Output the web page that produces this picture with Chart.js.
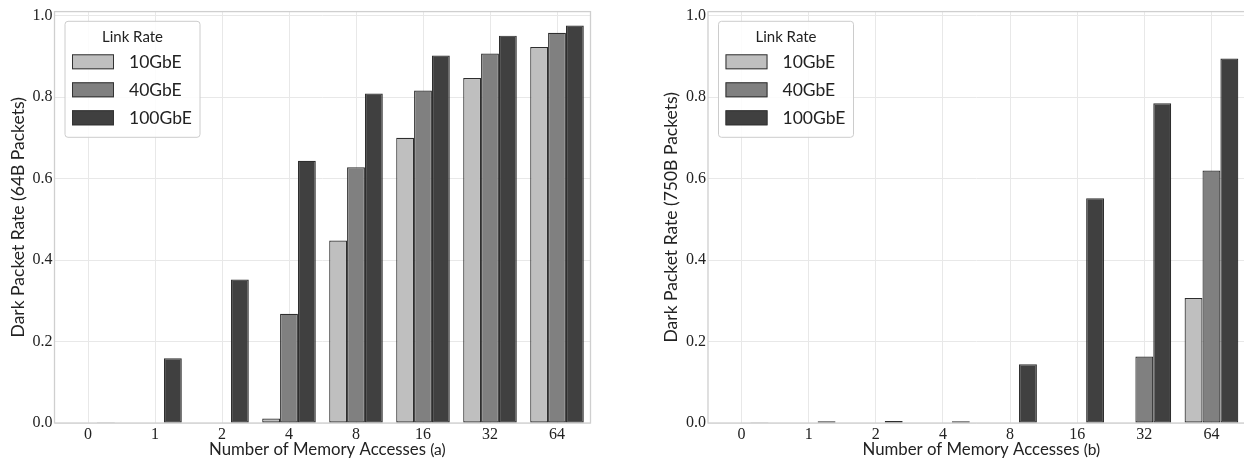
<!DOCTYPE html>
<html><head><meta charset="utf-8">
<script src="https://cdn.jsdelivr.net/npm/chart.js@4/dist/chart.umd.min.js"></script>
<style>
html,body{margin:0;padding:0;background:#fff;overflow:hidden;width:1244px;height:464px;}
#wa{position:absolute;left:0;top:0;width:620px;height:464px;}
#wb{position:absolute;left:620px;top:0;width:626px;height:464px;}
canvas{display:block;}
</style></head>
<body>
<div id="wa"><canvas id="ca" width="620" height="464" style="width:620px;height:464px"></canvas></div>
<div id="wb"><canvas id="cb" width="626" height="464" style="width:626px;height:464px"></canvas></div>
<script>
// ---- data ----
const categories = ['0', '1', '2', '4', '8', '16', '32', '64'];
const seriesNames = ['10GbE', '40GbE', '100GbE'];
const seriesColors = ['#bfbfbf', '#808080', '#404040'];
const rate64B_10GbE  = [0, 0, 0, 0.011, 0.448, 0.700, 0.847, 0.923];
const rate64B_40GbE  = [0, 0, 0, 0.268, 0.628, 0.816, 0.907, 0.958];
const rate64B_100GbE = [0.002, 0.159, 0.352, 0.644, 0.809, 0.902, 0.951, 0.976];
const rate750B_10GbE  = [0, 0, 0, 0, 0, 0, 0, 0.307];
const rate750B_40GbE  = [0, 0, 0, 0, 0, 0, 0.163, 0.620];
const rate750B_100GbE = [0.002, 0.004, 0.005, 0.004, 0.144, 0.552, 0.785, 0.895];
const yTickStep = 0.2;
const yMax = 1.01;
const legendTitle = 'Link Rate';
const xTitle = 'Number of Memory Accesses';
const yTitleA = 'Dark Packet Rate (64B Packets)';
const yTitleB = 'Dark Packet Rate (750B Packets)';

const SANS = 'Lato, "Open Sans", sans-serif';
const SERIF = '"Liberation Serif", serif';
const TXT = '#222222';

function makeDatasets(vals) {
  return vals.map((v, i) => ({
    label: seriesNames[i],
    data: v,
    backgroundColor: seriesColors[i],
    borderColor: '#2e2e2e',
    borderWidth: 1.2,
    borderSkipped: false,
    categoryPercentage: 0.8,
    barPercentage: 1.0
  }));
}

function decorPlugin(sub, yTitle) {
  return {
    id: 'decor',
    beforeDatasetsDraw(chart) {
      const {ctx, chartArea: a} = chart;
      ctx.save();
      ctx.strokeStyle = '#cfcfcf';
      ctx.lineWidth = 1.3;
      ctx.strokeRect(a.left, a.top, a.right - a.left, a.bottom - a.top);
      ctx.restore();
    },
    afterDraw(chart) {
      const {ctx, chartArea: a} = chart;
      ctx.save();
      ctx.fillStyle = TXT;
      // y title
      ctx.save();
      ctx.translate(a.left - 36.5, (a.top + a.bottom) / 2);
      ctx.rotate(-Math.PI / 2);
      ctx.font = '17.5px ' + SANS;
      ctx.textAlign = 'center';
      ctx.textBaseline = 'middle';
      ctx.fillText(yTitle, 0, 0);
      ctx.restore();
      // x title with small suffix
      const mainFont = '16.8px ' + SANS, subFont = '15.5px ' + SANS;
      ctx.font = mainFont;
      const w1 = ctx.measureText(xTitle + ' ').width;
      const x0 = a.left + 154.5;
      const yb = 455;
      ctx.textAlign = 'left';
      ctx.textBaseline = 'alphabetic';
      ctx.fillText(xTitle + ' ', x0, yb);
      ctx.font = subFont;
      ctx.fillText(sub, x0 + w1, yb);
      // legend
      const bx = a.left + 10.5, by = a.top + 9.7, bw = 135, bh = 116;
      ctx.fillStyle = 'rgba(255,255,255,0.85)';
      ctx.strokeStyle = '#cccccc';
      ctx.lineWidth = 1;
      ctx.beginPath();
      if (ctx.roundRect) ctx.roundRect(bx, by, bw, bh, 3); else ctx.rect(bx, by, bw, bh);
      ctx.fill(); ctx.stroke();
      ctx.fillStyle = TXT;
      ctx.font = '15px ' + SANS;
      ctx.textAlign = 'center';
      ctx.textBaseline = 'middle';
      ctx.fillText(legendTitle, bx + bw / 2, by + 16);
      chart.data.datasets.forEach((ds, i) => {
        const sy = by + 33 + i * 28;
        ctx.fillStyle = ds.backgroundColor;
        ctx.fillRect(bx + 7, sy, 42, 15);
        ctx.strokeStyle = '#333333';
        ctx.lineWidth = 1;
        ctx.strokeRect(bx + 7.5, sy + 0.5, 41, 14);
        ctx.fillStyle = TXT;
        ctx.font = '17.5px ' + SANS;
        ctx.textAlign = 'left';
        ctx.textBaseline = 'middle';
        ctx.fillText(ds.label, bx + 64, sy + 8);
      });
      ctx.restore();
    }
  };
}

function makeChart(id, vals, yAxisWidth, padRight, sub, yTitle) {
  return new Chart(document.getElementById(id), {
    type: 'bar',
    data: { labels: categories, datasets: makeDatasets(vals) },
    options: {
      responsive: false,
      animation: false,
      devicePixelRatio: 1,
      layout: { padding: { top: 8.3, right: padRight, left: 0, bottom: 0 } },
      plugins: { legend: { display: false }, tooltip: { enabled: false } },
      scales: {
        x: {
          offset: true,
          grid: { offset: false, color: '#e8e8e8', lineWidth: 1, drawTicks: false },
          border: { display: false },
          ticks: { font: { family: SERIF, size: 16 }, color: TXT, padding: 2, autoSkip: false, maxRotation: 0 },
          afterFit(s) { s.height = 41; }
        },
        y: {
          min: 0, max: yMax,
          grid: { color: '#e8e8e8', lineWidth: 1, drawTicks: false },
          border: { display: false },
          ticks: {
            stepSize: yTickStep, includeBounds: false,
            font: { family: SERIF, size: 16 }, color: TXT, padding: 2,
            callback: v => Number(v).toFixed(1)
          },
          afterFit(s) { s.width = yAxisWidth; }
        }
      }
    },
    plugins: [decorPlugin(sub, yTitle)]
  });
}

makeChart('ca', [rate64B_10GbE, rate64B_40GbE, rate64B_100GbE], 54.5, 29.5, '(a)', yTitleA);
makeChart('cb', [rate750B_10GbE, rate750B_40GbE, rate750B_100GbE], 88, 1, '(b)', yTitleB);
</script>
</body></html>
